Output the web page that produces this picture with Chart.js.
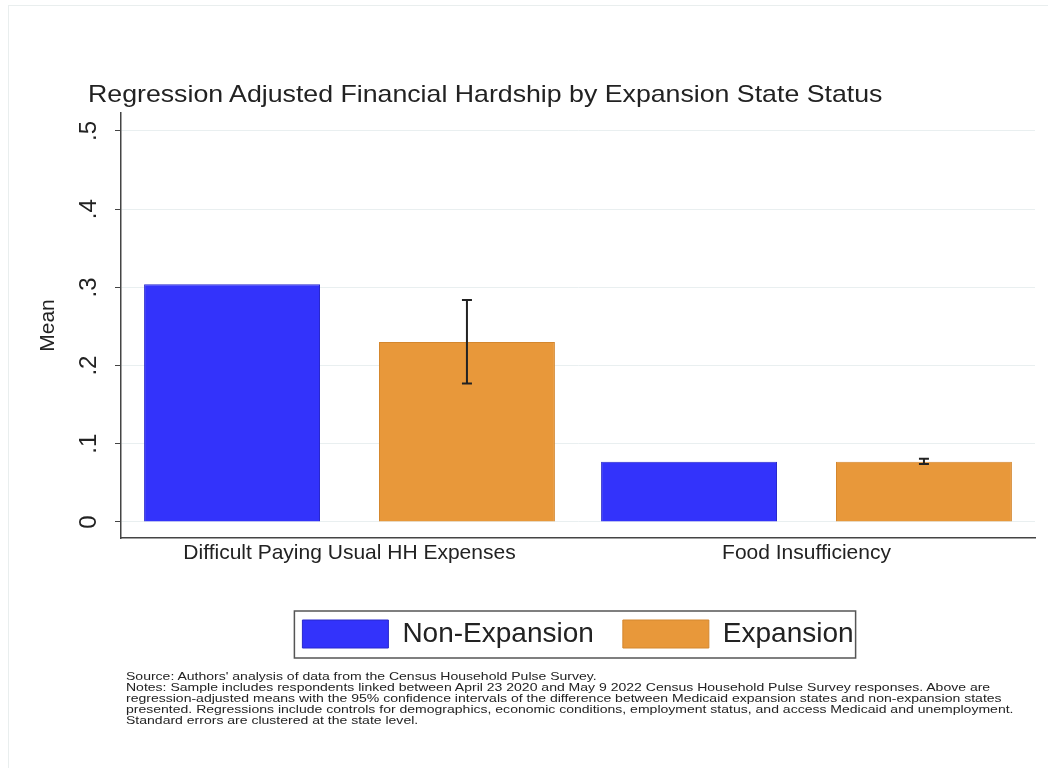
<!DOCTYPE html>
<html>
<head>
<meta charset="utf-8">
<title>Financial Hardship by Expansion State Status</title>
<script src="https://cdn.jsdelivr.net/npm/chart.js@4.4.0/dist/chart.umd.min.js"></script>
<style>
    body { margin: 0; background: #fff; font-family: "Liberation Sans", Arial, sans-serif; }
    #frame { position: absolute; left: 8px; top: 5px; width: 1040px; height: 763px;
             border-top: 1px solid #e9eeee; border-left: 1px solid #e9eeee; }
    #title { position: absolute; left: 88px; top: 80px; font-size: 24px; color: #222; white-space: nowrap;
             transform: scaleX(1.113); transform-origin: 0 0; }
    #wrap { position: absolute; left: 0; top: 0; width: 1048px; height: 680px; }
    #notes { position: absolute; left: 126px; top: 671px; font-size: 10.5px; line-height: 11px; color: #222;
             white-space: nowrap; transform: scaleX(1.335); transform-origin: 0 0; }
</style>
</head>
<body>
<div id="frame"></div>
<div id="wrap"><canvas id="hardshipChart"></canvas></div>
<div id="title">Regression Adjusted Financial Hardship by Expansion State Status</div>
<div id="notes">
    Source: Authors' analysis of data from the Census Household Pulse Survey.<br>
    Notes: Sample includes respondents linked between April 23 2020 and May 9 2022 Census Household Pulse Survey responses. Above are<br>
    regression-adjusted means with the 95% confidence intervals of the difference between Medicaid expansion states and non-expansion states<br>
    presented. Regressions include controls for demographics, economic conditions, employment status, and access Medicaid and unemployment.<br>
    Standard errors are clustered at the state level.
</div>
<script>
const categories = ['Difficult Paying Usual HH Expenses', 'Food Insufficiency'];
const nonExpansion = [0.304, 0.077];
const expansion = [0.230, 0.077];
// 95% CI around the expansion-state means
const expansionLow = [0.177, 0.074];
const expansionHigh = [0.284, 0.081];
const yTicks = [0, 0.1, 0.2, 0.3, 0.4, 0.5];
const yTickLabels = ['0', '.1', '.2', '.3', '.4', '.5'];

Chart.defaults.font.family = '"Liberation Sans", Arial, sans-serif';
Chart.defaults.color = '#222';

// draws the CI whiskers on top of any dataset that carries errLow/errHigh
const errorBars = {
    id: 'errorBars',
    afterDatasetsDraw(chart) {
        const ctx = chart.ctx;
        const yScale = chart.scales.y;
        chart.data.datasets.forEach((ds, di) => {
            if (!ds.errLow) return;
            chart.getDatasetMeta(di).data.forEach((bar, i) => {
                const top = yScale.getPixelForValue(ds.errHigh[i]);
                const bottom = yScale.getPixelForValue(ds.errLow[i]);
                ctx.save();
                ctx.strokeStyle = '#222';
                ctx.lineWidth = 2;
                ctx.beginPath();
                ctx.moveTo(bar.x, top);
                ctx.lineTo(bar.x, bottom);
                ctx.moveTo(bar.x - 5, top);
                ctx.lineTo(bar.x + 5, top);
                ctx.moveTo(bar.x - 5, bottom);
                ctx.lineTo(bar.x + 5, bottom);
                ctx.stroke();
                ctx.restore();
            });
        });
    }
};

// box around the legend items
const legendFrame = {
    id: 'legendFrame',
    afterDraw(chart) {
        const boxes = chart.legend.legendHitBoxes;
        if (!boxes || !boxes.length) return;
        const left = Math.min(...boxes.map(b => b.left)) - 8;
        const right = Math.max(...boxes.map(b => b.left + b.width)) + 2;
        const top = boxes[0].top - 9;
        const bottom = boxes[0].top + boxes[0].height + 10;
        const ctx = chart.ctx;
        ctx.save();
        ctx.strokeStyle = '#555';
        ctx.lineWidth = 1.5;
        ctx.strokeRect(left, top, right - left, bottom - top);
        ctx.restore();
    }
};

new Chart(document.getElementById('hardshipChart'), {
    type: 'bar',
    data: {
        labels: categories,
        datasets: [{
            label: 'Non-Expansion',
            data: nonExpansion,
            backgroundColor: '#3333fb',
            borderColor: '#2828cc',
            borderWidth: 1
        }, {
            label: 'Expansion',
            data: expansion,
            backgroundColor: '#e8983a',
            borderColor: '#d4872e',
            borderWidth: 1,
            errLow: expansionLow,
            errHigh: expansionHigh
        }]
    },
    options: {
        responsive: true,
        maintainAspectRatio: false,
        animation: false,
        categoryPercentage: 1.028,
        barPercentage: 0.749,
        layout: { padding: { left: 34, right: 13, top: 113, bottom: 22 } },
        plugins: {
            tooltip: { enabled: false },
            title: { display: false },
            legend: {
                position: 'bottom',
                fullSize: false,
                labels: {
                    boxWidth: 86,
                    boxHeight: 28,
                    padding: 29,
                    font: { size: 28 },
                    color: '#222'
                }
            }
        },
        scales: {
            x: {
                afterFit: s => { s.height = 53; },
                grid: { drawOnChartArea: false, drawTicks: false },
                border: { color: '#444', width: 1.5 },
                ticks: { font: { size: 21 }, padding: 3, maxRotation: 0 }
            },
            y: {
                min: -0.0205,
                max: 0.523,
                afterFit: s => { s.width = 87; },
                afterBuildTicks: s => { s.ticks = yTicks.map(v => ({ value: v })); },
                ticks: {
                    callback: (v, i) => yTickLabels[i],
                    minRotation: 90,
                    maxRotation: 90,
                    crossAlign: 'center',
                    padding: 16,
                    font: { size: 24 }
                },
                grid: { color: '#e9eff0', tickColor: '#444', tickLength: 6 },
                border: { color: '#444', width: 1.5 },
                title: { display: true, text: 'Mean', font: { size: 21 }, padding: 2 }
            }
        }
    },
    plugins: [errorBars, legendFrame]
});
</script>
</body>
</html>
